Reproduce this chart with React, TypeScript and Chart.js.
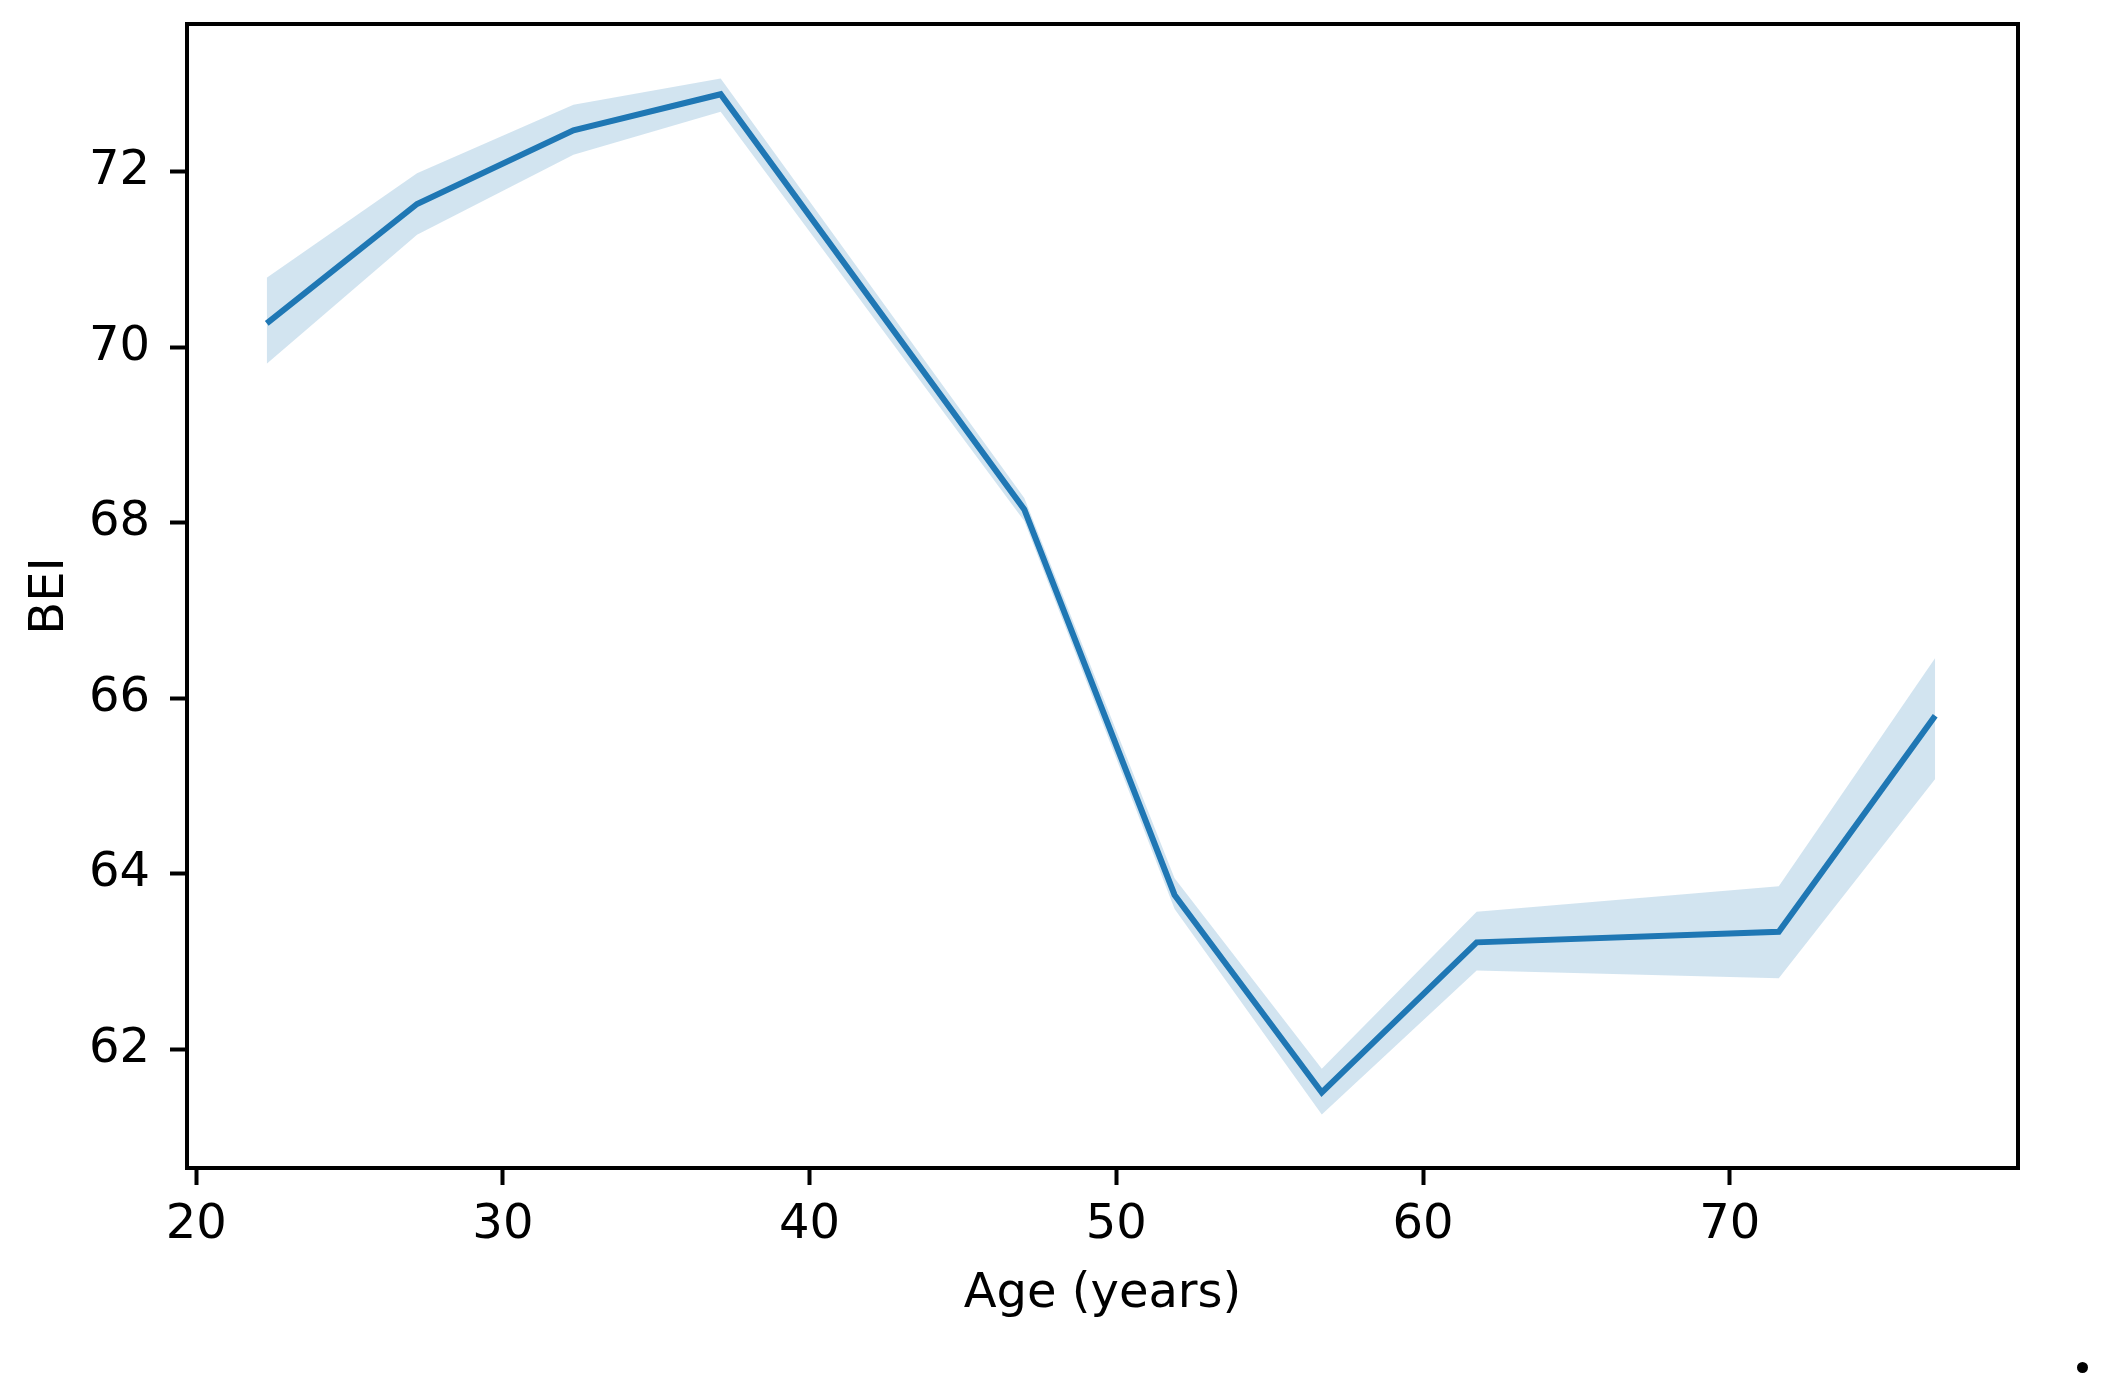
import { useEffect, useRef } from "react";
import { Chart, registerables } from "chart.js";

Chart.register(...registerables);

// age bin centres (years)
const ages = [22.3, 27.2, 32.3, 37.1, 47.0, 51.9, 56.7, 61.75, 71.6, 76.7];
// mean BEI per bin
const bei = [70.27, 71.63, 72.47, 72.88, 68.15, 63.76, 61.51, 63.22, 63.34, 65.8];
// confidence band
const beiUpper = [70.79, 71.98, 72.76, 73.06, 68.28, 63.95, 61.78, 63.57, 63.86, 66.46];
const beiLower = [69.81, 71.28, 72.19, 72.68, 68.02, 63.6, 61.26, 62.9, 62.81, 65.08];

const xTicks = [20, 30, 40, 50, 60, 70];
const yTicks = [62, 64, 66, 68, 70, 72];

const FONT = "'DejaVu Sans', sans-serif";

const frame = {
  id: "frame",
  afterDatasetsDraw(chart: any) {
    const { ctx, chartArea } = chart;
    ctx.save();
    ctx.strokeStyle = "#000";
    ctx.lineWidth = 4;
    ctx.strokeRect(chartArea.left, chartArea.top, chartArea.right - chartArea.left, chartArea.bottom - chartArea.top);
    ctx.restore();
  },
};

export default function App() {
  const canvasRef = useRef<HTMLCanvasElement>(null);
  const chartRef = useRef<Chart | null>(null);

  useEffect(() => {
    document.body.style.margin = "0";
    if (!canvasRef.current) return;
    if (chartRef.current) chartRef.current.destroy();

    const pts = (ys: number[]) => ages.map((x, i) => ({ x, y: ys[i] }));

    chartRef.current = new Chart(canvasRef.current, {
      type: "line",
      data: {
        datasets: [
          {
            label: "upper",
            data: pts(beiUpper),
            borderWidth: 0,
            pointRadius: 0,
            fill: false,
            order: 2,
          },
          {
            label: "lower",
            data: pts(beiLower),
            borderWidth: 0,
            pointRadius: 0,
            backgroundColor: "rgba(31,119,180,0.2)",
            fill: "-1",
            order: 2,
          },
          {
            label: "BEI",
            data: pts(bei),
            borderColor: "#1f77b4",
            borderWidth: 6,
            pointRadius: 0,
            tension: 0,
            fill: false,
            order: 1,
          },
        ],
      },
      options: {
        responsive: false,
        devicePixelRatio: 1,
        animation: false,
        layout: { padding: { left: 18, right: 87, top: 24, bottom: 72 } },
        plugins: {
          legend: { display: false },
          tooltip: { enabled: false },
        },
        scales: {
          x: {
            type: "linear",
            min: 19.7,
            max: 79.4,
            afterBuildTicks: (s: any) => {
              s.ticks = xTicks.map((value) => ({ value }));
            },
            afterFit: (s: any) => {
              s.height = 159;
              s.paddingLeft = 0;
              s.paddingRight = 0;
            },
            ticks: {
              font: { family: FONT, size: 48 },
              color: "#000",
              padding: 12,
              maxRotation: 0,
              autoSkip: false,
            },
            grid: { drawOnChartArea: false, tickLength: 17, tickWidth: 4, color: "#000" },
            border: { display: false },
            title: {
              display: true,
              text: "Age (years)",
              color: "#000",
              font: { family: FONT, size: 48 },
            },
          },
          y: {
            min: 60.65,
            max: 73.68,
            afterBuildTicks: (s: any) => {
              s.ticks = yTicks.map((value) => ({ value }));
            },
            afterFit: (s: any) => {
              s.width = 169;
              s.paddingTop = 0;
              s.paddingBottom = 0;
            },
            ticks: {
              font: { family: FONT, size: 48 },
              color: "#000",
              padding: 20,
              autoSkip: false,
            },
            grid: { drawOnChartArea: false, tickLength: 17, tickWidth: 4, color: "#000" },
            border: { display: false },
            title: {
              display: true,
              text: "BEI",
              color: "#000",
              font: { family: FONT, size: 48 },
            },
          },
        },
      },
      plugins: [frame],
    });

    return () => {
      if (chartRef.current) chartRef.current.destroy();
      chartRef.current = null;
    };
  }, []);

  return (
    <div style={{ position: "relative", width: 2105, height: 1399, background: "#fff" }}>
      <canvas ref={canvasRef} width={2105} height={1399} />
      <div
        style={{
          position: "absolute",
          left: 2077,
          top: 1362,
          width: 11,
          height: 11,
          borderRadius: "50%",
          background: "#000",
        }}
      />
    </div>
  );
}
